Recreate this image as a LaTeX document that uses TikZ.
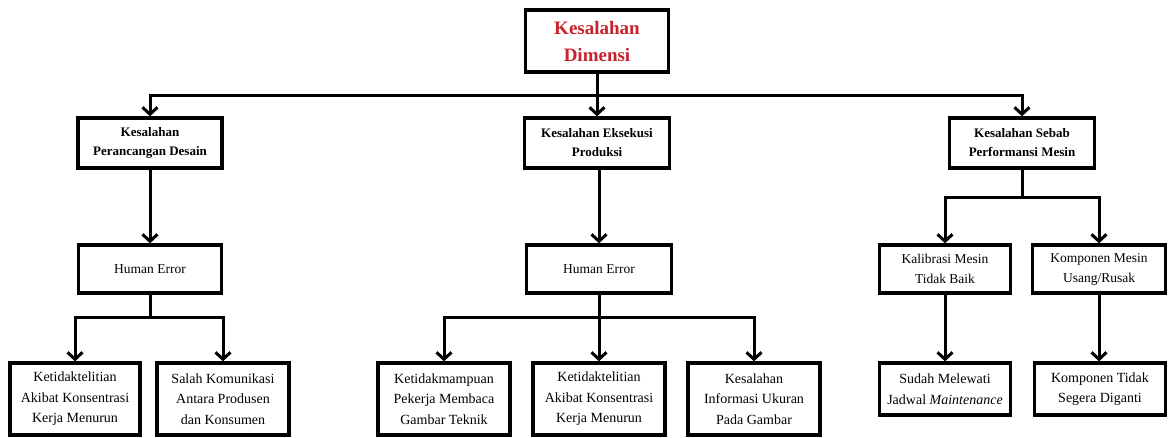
\documentclass[tikz,border=0pt]{standalone}
\usepackage{fontspec}
\setmainfont{Liberation Serif}
\usetikzlibrary{arrows.meta, positioning, calc}
\definecolor{judulred}{RGB}{200,35,45}

\begin{document}
\begin{tikzpicture}[x=1pt,y=-1pt,
  box/.style={draw, line width=3.3pt, align=center, inner sep=1pt, minimum height=48pt},
  judul/.style={box, text=judulred, font=\fontsize{19}{27}\selectfont\bfseries, minimum width=143pt, minimum height=62pt},
  kat/.style={box, font=\fontsize{13}{19}\selectfont\bfseries, minimum width=144pt, minimum height=50pt},
  sebab/.style={box, font=\fontsize{13.5}{20}\selectfont, minimum width=131pt},
  akar/.style={box, font=\fontsize{14}{20.5}\selectfont, minimum width=131pt, minimum height=72pt},
  arr/.style={line width=3pt, -{Straight Barb[length=7pt,width=15pt,line width=3pt]}},
  garis/.style={line width=3pt}]
\useasboundingbox (0,0) rectangle (1168,437);
% Top
\node[judul] (dimensi) at (597,41) {Kesalahan\\Dimensi};
\coordinate (bus) at (597,95);
% Level 1
\node[kat] (desain) at (150,143) {Kesalahan\\Perancangan Desain};
\node[kat, minimum width=145pt] (eksekusi) at (597,143) {Kesalahan Eksekusi\\Produksi};
\node[kat, minimum width=145pt] (mesin) at (1022,143) {Kesalahan Sebab\\Performansi Mesin};
\draw[arr] (dimensi) -- (eksekusi);
\draw[arr] (bus) -| (desain);
\draw[arr] (bus) -| (mesin);
% Level 2
\node[sebab, minimum width=143pt] (human1) at (150,269) {Human Error};
\node[sebab, minimum width=145pt] (human2) at (599,269) {Human Error};
\node[sebab] (kalibrasi) at (945,269) {Kalibrasi Mesin\\Tidak Baik};
\node[sebab, minimum width=133pt] (komponen) at (1099,269) {Komponen Mesin\\Usang/Rusak};
\draw[arr] (desain) -- (human1);
\draw[arr] (eksekusi.south -| human2) -- (human2);
\coordinate (cab3) at (1022,197);
\draw[garis] (mesin) -- (cab3);
\draw[arr] (cab3) -| (kalibrasi);
\draw[arr] (cab3) -| (komponen);
% Level 3
\node[akar, minimum width=130pt] (teliti1) at (75,399) {Ketidaktelitian\\Akibat Konsentrasi\\Kerja Menurun};
\node[akar, minimum width=132pt] (komunikasi) at (223,399) {Salah Komunikasi\\Antara Produsen\\dan Konsumen};
\node[akar, minimum width=132pt] (mampu) at (444,399) {Ketidakmampuan\\Pekerja Membaca\\Gambar Teknik};
\node[akar, minimum width=132pt] (teliti2) at (599,399) {Ketidaktelitian\\Akibat Konsentrasi\\Kerja Menurun};
\node[akar, minimum width=132pt] (ukuran) at (754,399) {Kesalahan\\Informasi Ukuran\\Pada Gambar};
\node[akar, minimum height=52pt] (jadwal) at (945,389) {Sudah Melewati\\Jadwal \textit{Maintenance}};
\node[akar, minimum height=52pt] (diganti) at (1100,389) {Komponen Tidak\\Segera Diganti};
\coordinate (cab1) at (150,317);
\coordinate (cab2) at (599,317);
\draw[garis] (human1) -- (cab1);
\draw[arr] (cab1) -| (teliti1);
\draw[arr] (cab1) -| (komunikasi);
\draw[arr] (human2) -- (teliti2);
\draw[arr] (cab2) -| (mampu);
\draw[arr] (cab2) -| (ukuran);
\draw[arr] (kalibrasi) -- (jadwal);
\draw[arr] (komponen.south) -- (komponen.south |- diganti.north);
\end{tikzpicture}
\end{document}
